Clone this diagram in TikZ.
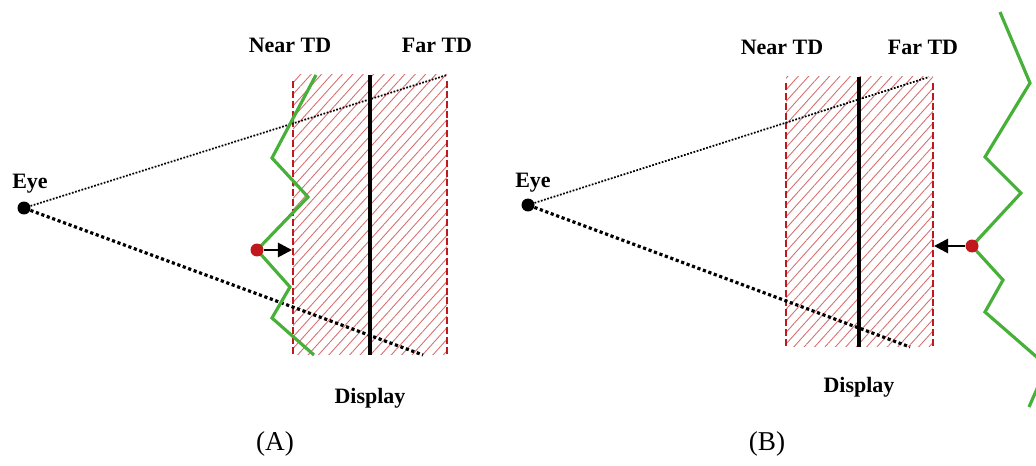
\documentclass[tikz,border=0pt]{standalone}
\usepackage{fontspec}
\setmainfont{Liberation Serif}
\usetikzlibrary{arrows.meta,patterns.meta,positioning}
\definecolor{tdred}{RGB}{192,24,28}
\definecolor{hatchred}{RGB}{214,110,110}
\definecolor{surfgreen}{RGB}{70,176,56}

\begin{document}
\begin{tikzpicture}[
  x=0.02cm, y=-0.02cm,
  lbl/.style={font=\fontsize{12.5}{15}\selectfont\bfseries},
  panelcap/.style={font=\fontsize{15.5}{18}\selectfont},
  zone/.style={pattern={Lines[angle=48,distance=4.4pt,line width=0.5pt]}, pattern color=hatchred},
  tdline/.style={draw=tdred, line width=1.6pt, dash pattern=on 4pt off 1.6pt},
  disp/.style={line width=1.8pt},
  ray/.style={line width=1pt, dash pattern=on 1pt off 0.9pt},
  raybold/.style={line width=1.8pt, dash pattern=on 1.8pt off 1.5pt},
  surf/.style={draw=surfgreen, line width=1.8pt, line join=miter},
  eyedot/.style={circle, fill=black, inner sep=0pt, minimum size=0.26cm},
  hitdot/.style={circle, fill=tdred, inner sep=0pt, minimum size=0.26cm},
  >={Triangle[length=8pt, width=8pt]}
]
\useasboundingbox (0,0) rectangle (1036,466);

% ---- (A) surface in front of the near TD ----
\coordinate (nearAtop) at (293,75);
\coordinate (nearAbot) at (293,355);
\coordinate (farAtop) at (447,75);
\coordinate (farAbot) at (447,355);
\fill[zone] (nearAtop) rectangle (farAbot);
\draw[tdline] (293,81) -- (nearAbot);
\draw[tdline] (447,81) -- (farAbot);
\draw[disp] (370,75) -- (370,355);

\node[eyedot] (eyeA) at (24,208) {};
\node[lbl] (eyeAlbl) at (30,184) {Eye};
\coordinate (rayAend) at (423,355);
\draw[ray] (eyeA) -- (farAtop);
\draw[raybold] (eyeA) -- (rayAend);

\draw[surf] (316,75) -- (272,158) -- (308,197) -- (257,250) -- (290,287) -- (272,318) -- (314,355);
\node[hitdot] (ptA) at (257,250) {};
\coordinate (hitA) at (292,250);
\draw[->, line width=1.6pt] (ptA) -- (hitA);

\node[lbl] (nearAlbl) at (290,45) {Near TD};
\node[lbl] (farAlbl) at (437,45) {Far TD};
\node[lbl] (dispAlbl) at (370,398) {Display};
\node[panelcap] (capA) at (275,444) {(A)};

% ---- (B) surface behind the far TD ----
\coordinate (nearBtop) at (786,77);
\coordinate (nearBbot) at (786,347);
\coordinate (farBtop) at (933,77);
\coordinate (farBbot) at (933,347);
\fill[zone] (nearBtop) rectangle (farBbot);
\draw[tdline] (786,83) -- (nearBbot);
\draw[tdline] (933,83) -- (farBbot);
\draw[disp] (859,77) -- (859,347);

\node[eyedot] (eyeB) at (528,205) {};
\node[lbl] (eyeBlbl) at (533,183) {Eye};
\coordinate (rayBtop) at (929,77);
\coordinate (rayBend) at (910,347);
\draw[ray] (eyeB) -- (rayBtop);
\draw[raybold] (eyeB) -- (rayBend);

\draw[surf] (1000,12) -- (1030,83) -- (985,157) -- (1021,193) -- (972,246) -- (1003,280) -- (985,312) -- (1047,366) -- (1029,407);
\node[hitdot] (ptB) at (972,246) {};
\coordinate (hitB) at (934,246);
\draw[->, line width=1.6pt] (ptB) -- (hitB);

\node[lbl] (nearBlbl) at (782,47) {Near TD};
\node[lbl] (farBlbl) at (923,47) {Far TD};
\node[lbl] (dispBlbl) at (859,387) {Display};
\node[panelcap] (capB) at (767,444) {(B)};
\end{tikzpicture}
\end{document}
